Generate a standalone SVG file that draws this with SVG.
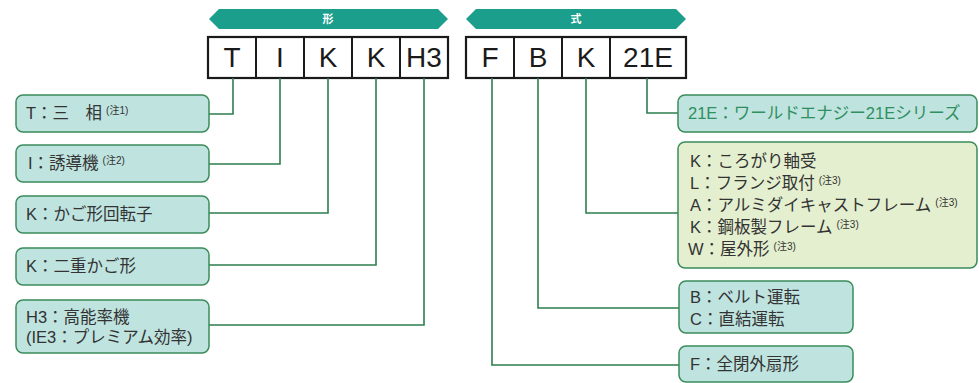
<svg xmlns="http://www.w3.org/2000/svg" width="979" height="383" viewBox="0 0 979 383">
<style>
.bn{fill:#1b9e8c}
.bt{fill:#fff;font-family:"Noto Sans CJK JP",sans-serif;font-size:11px;font-weight:bold;text-anchor:middle}
.cb{fill:#fff;stroke:#1a1a1a;stroke-width:2.2}
.cd{stroke:#1a1a1a;stroke-width:2}
.ct{font-family:"Liberation Sans","Noto Sans CJK JP",sans-serif;font-size:28px;fill:#1a1a1a;text-anchor:middle}
.bx{fill:#bfe3df;stroke:#3a8c5c;stroke-width:1.5}
.gx{fill:#e4efcf;stroke:#3a8c5c;stroke-width:1.5}
.t{font-family:"Liberation Sans","Noto Sans CJK JP",sans-serif;font-size:16.5px;fill:#333}
.tg{fill:#2f8f5e}
.n{font-size:10px}
.cn{fill:none;stroke:#2d7d4e;stroke-width:1.6}
</style>
<g id="banner-kei">
<polygon class="bn" points="209,19 219,9 438,9 448,19 438,29 219,29"/>
<text class="bt" x="328" y="23">形</text>
</g>
<g id="banner-shiki">
<polygon class="bn" points="466,19 476,9 676,9 686,19 676,29 476,29"/>
<text class="bt" x="576" y="23">式</text>
</g>
<g id="code-left">
<rect class="cb" x="208" y="37" width="240" height="41"/>
<line class="cd" x1="256" y1="37" x2="256" y2="78"/>
<line class="cd" x1="304" y1="37" x2="304" y2="78"/>
<line class="cd" x1="352" y1="37" x2="352" y2="78"/>
<line class="cd" x1="400" y1="37" x2="400" y2="78"/>
<text class="ct" x="232" y="67">T</text>
<text class="ct" x="280" y="67">I</text>
<text class="ct" x="328" y="67">K</text>
<text class="ct" x="376" y="67">K</text>
<text class="ct" x="424" y="67">H3</text>
</g>
<g id="code-right">
<rect class="cb" x="466" y="37" width="220" height="41"/>
<line class="cd" x1="514" y1="37" x2="514" y2="78"/>
<line class="cd" x1="562" y1="37" x2="562" y2="78"/>
<line class="cd" x1="610" y1="37" x2="610" y2="78"/>
<text class="ct" x="490" y="67">F</text>
<text class="ct" x="538" y="67">B</text>
<text class="ct" x="586" y="67">K</text>
<text class="ct" x="648" y="67">21E</text>
</g>
<g id="connectors">
<polyline class="cn" points="233,78 233,114 209,114"/>
<polyline class="cn" points="280,78 280,164 209,164"/>
<polyline class="cn" points="328,78 328,213 209,213"/>
<polyline class="cn" points="376,78 376,265 209,265"/>
<polyline class="cn" points="424,78 424,325 209,325"/>
<polyline class="cn" points="492,78 492,365 679,365"/>
<polyline class="cn" points="538,78 538,308 679,308"/>
<polyline class="cn" points="586,78 586,213 678,213"/>
<polyline class="cn" points="647,78 647,113 678,113"/>
</g>
<g id="node-T">
<rect class="bx" x="16" y="95" width="193" height="37" rx="7"/>
<text class="t" x="26" y="119">T：三　相<tspan class="n" dx="4" dy="-5">(注1)</tspan></text>
</g>
<g id="node-I">
<rect class="bx" x="16" y="145" width="193" height="37" rx="7"/>
<text class="t" x="28" y="169">I：誘導機<tspan class="n" dx="4" dy="-5">(注2)</tspan></text>
</g>
<g id="node-K1">
<rect class="bx" x="16" y="196" width="193" height="37" rx="7"/>
<text class="t" x="26" y="220">K：かご形回転子</text>
</g>
<g id="node-K2">
<rect class="bx" x="16" y="248" width="193" height="37" rx="7"/>
<text class="t" x="26" y="272">K：二重かご形</text>
</g>
<g id="node-H3">
<rect class="bx" x="16" y="300" width="193" height="53" rx="7"/>
<text class="t" x="26" y="323">H3：高能率機</text>
<text class="t" x="26" y="343">(IE3：プレミアム効率)</text>
</g>
<g id="node-21E">
<rect class="bx" x="678" y="95" width="299" height="37" rx="7"/>
<text class="t tg" x="688" y="119">21E：ワールドエナジー21Eシリーズ</text>
</g>
<g id="node-K3">
<rect class="gx" x="678" y="142" width="299" height="126" rx="7"/>
<text class="t" x="690" y="167">K：ころがり軸受</text>
<text class="t" x="690" y="189">L：フランジ取付<tspan class="n" dx="4" dy="-5">(注3)</tspan></text>
<text class="t" x="690" y="211">A：アルミダイキャストフレーム<tspan class="n" dx="4" dy="-5">(注3)</tspan></text>
<text class="t" x="690" y="233">K：鋼板製フレーム<tspan class="n" dx="4" dy="-5">(注3)</tspan></text>
<text class="t" x="688" y="255">W：屋外形<tspan class="n" dx="4" dy="-5">(注3)</tspan></text>
</g>
<g id="node-B">
<rect class="bx" x="679" y="281" width="174" height="52" rx="7"/>
<text class="t" x="690" y="303">B：ベルト運転</text>
<text class="t" x="690" y="325">C：直結運転</text>
</g>
<g id="node-F">
<rect class="bx" x="679" y="346" width="174" height="36" rx="7"/>
<text class="t" x="690" y="370">F：全閉外扇形</text>
</g>
</svg>
